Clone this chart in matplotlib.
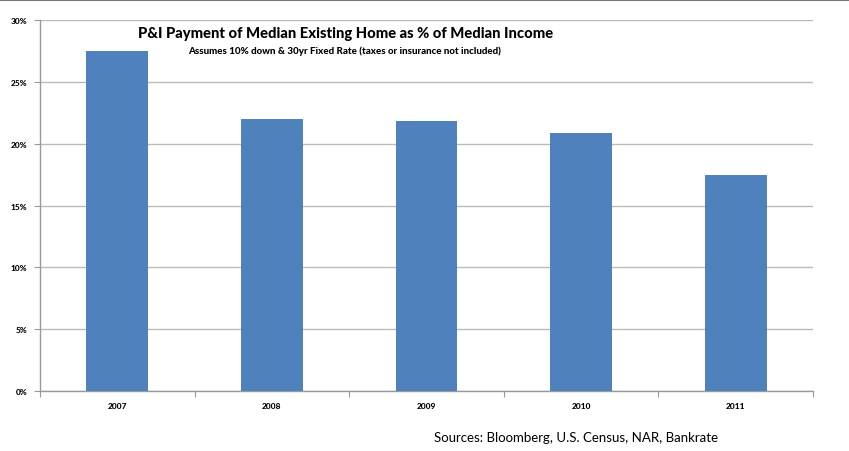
import matplotlib
matplotlib.use("Agg")
import matplotlib.pyplot as plt
from matplotlib.ticker import FixedLocator, NullFormatter
import numpy as np

years = ["2007", "2008", "2009", "2010", "2011"]
values = [27.5, 22.0, 21.8, 20.9, 17.5]
yticks = [0, 5, 10, 15, 20, 25, 30]
ytick_labels = ["0%", "5%", "10%", "15%", "20%", "25%", "30%"]

title = "P&I Payment of Median Existing Home as % of Median Income"
subtitle = "Assumes 10% down & 30yr Fixed Rate (taxes or insurance not included)"
source = "Sources: Bloomberg, U.S. Census, NAR, Bankrate"

W, H = 849, 452
fig = plt.figure(figsize=(W / 100, H / 100), dpi=100)
fig.patch.set_facecolor("white")

left, right, top, bottom = 40, 813, 21, 392
ax = fig.add_axes([left / W, 1 - bottom / H, (right - left) / W, (bottom - top) / H])

x = np.arange(len(years))
ax.bar(x, values, width=0.4, color="#4F81BD", zorder=3)

ax.set_xlim(-0.5, len(years) - 0.5)
ax.set_ylim(0, 30)
ax.set_yticks(yticks)
ax.set_yticklabels(ytick_labels, fontsize=6, fontweight="black", family="Lato")
ax.set_xticks(x)
ax.set_xticklabels(years, fontsize=6, fontweight="black", family="Lato")
ax.tick_params(axis="x", length=0, pad=8)
ax.xaxis.set_minor_locator(FixedLocator(np.arange(-0.5, len(years), 1.0)))
ax.xaxis.set_minor_formatter(NullFormatter())
ax.tick_params(axis="x", which="minor", length=4, color="#999999", width=0.8)
ax.tick_params(axis="y", length=4, color="#999999", width=0.8, pad=5)

ax.grid(axis="y", color="#BBBBBB", linewidth=1.0, zorder=0)
for s in ["top", "right"]:
    ax.spines[s].set_visible(False)
for s in ["left", "bottom"]:
    ax.spines[s].set_color("#999999")
    ax.spines[s].set_linewidth(1.0)

fig.text(346 / W, 1 - 34 / H, title, ha="center", va="center", fontsize=10.6,
         fontweight="black", family="Lato")
fig.text(345 / W, 1 - 51 / H, subtitle, ha="center", va="center", fontsize=7.0,
         fontweight="black", family="Lato")
fig.text(576 / W, 1 - 438 / H, source, ha="center", va="center", fontsize=9.5,
         family="Lato")

# top border line
fig.add_artist(plt.Line2D([0, 1], [1 - 1 / H, 1 - 1 / H], color="#777777", linewidth=1.5,
                          transform=fig.transFigure))

fig.savefig("out.png", dpi=100)
